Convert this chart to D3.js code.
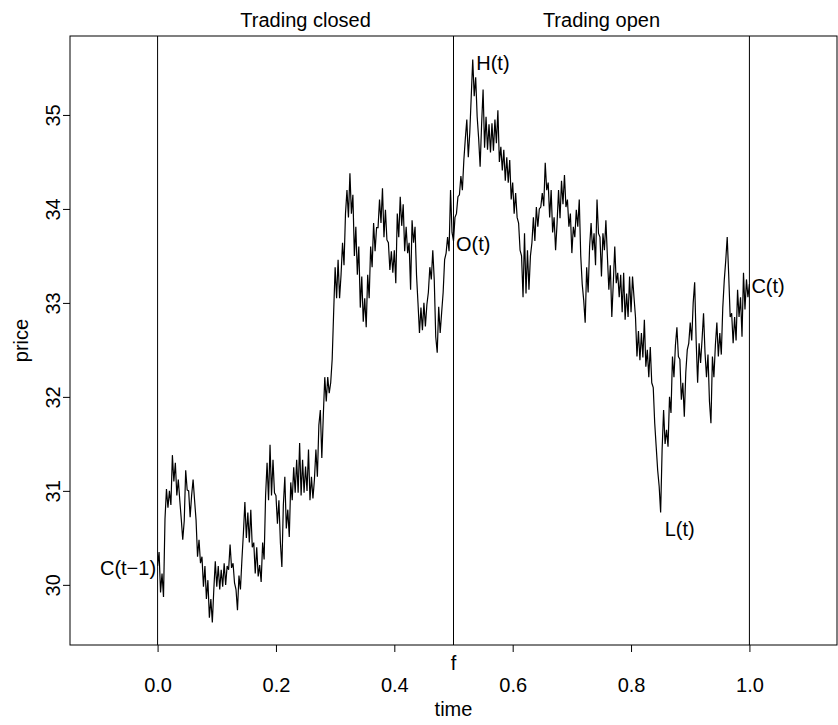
<!DOCTYPE html>
<html>
<head>
<meta charset="utf-8">
<script src="https://cdn.jsdelivr.net/npm/d3@7"></script>
<style>
  body { margin: 0; background: #fff; }
  text { font-family: "Liberation Sans", Arial, Helvetica, sans-serif; fill: #000; }
</style>
</head>
<body>
<div id="chart"></div>
<script>
var timeStep = 0.0025;
var prices = [
  30.20, 30.35, 29.92, 30.12, 29.87, 30.70, 31.02, 30.82, 31.00, 30.85,
  31.38, 31.10, 31.30, 30.95, 31.12, 30.90, 30.70, 30.48, 30.68, 31.22,
  31.01, 31.00, 30.72, 30.95, 31.12, 30.90, 30.69, 30.30, 30.48, 30.23,
  30.30, 29.98, 30.20, 29.85, 30.05, 29.65, 29.85, 29.60, 29.95, 30.25,
  29.98, 30.20, 29.95, 30.16, 29.98, 30.23, 30.00, 30.20, 30.16, 30.43,
  30.18, 30.23, 30.02, 29.95, 29.73, 30.10, 29.95, 30.27, 30.55, 30.88,
  30.50, 30.77, 30.45, 30.80, 30.40, 30.45, 30.12, 30.40, 30.09, 30.21,
  30.03, 30.45, 30.27, 30.95, 31.30, 30.90, 31.49, 30.95, 31.33, 30.98,
  30.95, 30.65, 30.90, 30.45, 30.19, 30.85, 31.15, 30.60, 30.80, 30.51,
  31.09, 30.90, 31.25, 30.98, 31.33, 30.98, 31.51, 30.95, 31.33, 30.98,
  31.26, 31.00, 31.44, 30.90, 31.15, 30.92, 31.12, 31.44, 31.15, 31.70,
  31.86, 31.35, 31.80, 32.21, 31.95, 32.21, 32.04, 32.15, 32.40, 32.90,
  33.38, 33.05, 33.46, 33.05, 33.30, 33.64, 33.40, 33.95, 34.20, 33.91,
  34.38, 33.95, 34.15, 33.50, 33.81, 33.30, 33.60, 32.95, 33.28, 32.80,
  33.05, 32.74, 33.30, 33.05, 33.60, 33.38, 33.85, 33.55, 33.80, 33.80,
  34.10, 33.85, 34.22, 33.70, 33.99, 33.67, 33.64, 33.35, 33.55, 33.32,
  33.56, 33.21, 33.95, 33.70, 34.13, 33.82, 34.05, 33.55, 33.81, 33.53,
  33.64, 33.14, 33.88, 33.64, 33.81, 33.30, 33.00, 32.68, 32.95, 32.71,
  33.00, 32.75, 32.98, 33.11, 33.38, 33.25, 33.56, 33.24, 32.64, 32.47,
  32.96, 32.68, 32.90, 33.11, 33.46, 33.53, 33.70, 33.55, 34.20, 33.75,
  33.66, 33.91, 33.95, 34.13, 34.15, 34.35, 34.20, 34.52, 34.75, 34.95,
  34.55, 34.81, 35.20, 35.59, 35.20, 35.40, 34.98, 34.75, 34.45, 34.90,
  35.27, 34.65, 34.98, 34.63, 34.90, 34.60, 34.91, 34.62, 34.95, 34.70,
  35.05, 34.50, 34.66, 34.41, 34.63, 34.30, 34.55, 34.28, 34.52, 34.10,
  34.28, 33.95, 34.17, 33.91, 33.85, 33.56, 33.50, 33.06, 33.74, 33.10,
  33.56, 33.14, 33.50, 33.64, 33.91, 33.66, 34.02, 33.81, 34.00, 34.02,
  34.17, 34.03, 34.49, 34.20, 34.28, 33.91, 34.20, 33.75, 33.91, 33.56,
  33.85, 34.20, 33.90, 34.30, 34.05, 34.36, 34.02, 34.10, 33.81, 33.95,
  33.53, 33.81, 33.70, 33.99, 33.81, 34.10, 33.50, 33.20, 33.03, 32.79,
  33.38, 33.11, 33.60, 33.85, 33.56, 33.74, 33.40, 34.10, 33.74, 33.70,
  33.28, 33.74, 33.56, 33.88, 33.50, 33.14, 33.40, 32.85, 33.21, 33.60,
  33.21, 33.32, 33.06, 33.30, 32.90, 33.32, 32.82, 33.10, 32.85, 33.28,
  32.90, 33.28, 33.06, 32.85, 32.43, 32.70, 32.39, 32.68, 32.42, 32.82,
  32.32, 32.50, 32.21, 32.53, 32.15, 32.10, 31.72, 31.47, 31.22, 31.05,
  30.77, 31.44, 31.86, 31.50, 31.65, 31.47, 32.00, 31.83, 32.43, 32.21,
  32.55, 32.74, 32.43, 32.40, 31.97, 32.15, 31.79, 32.26, 32.50, 32.57,
  32.79, 32.60, 33.00, 33.22, 32.60, 32.15, 32.57, 32.36, 32.61, 32.89,
  32.47, 32.21, 32.45, 31.95, 31.72, 32.43, 32.21, 32.55, 32.79, 32.43,
  32.68, 32.45, 32.95, 33.24, 33.45, 33.70, 33.30, 32.85, 32.89, 32.57,
  32.85, 32.60, 33.14, 32.85, 33.06, 32.64, 33.32, 32.93, 33.25, 33.06,
  33.20
];

var xTicks = [0, 0.2, 0.4, 0.6, 0.8, 1.0];
var yTicks = [30, 31, 32, 33, 34, 35];
var sessionBreaks = [0, 0.5, 1];
var sessionNames = ["Trading closed", "Trading open"];
var openTime = 0.5;
var xLimits = [-0.148, 1.148];
var yLimits = [29.36, 35.84];

var svgWidth = 838;
var svgHeight = 725;
var margin = { top: 36, right: 1, bottom: 80, left: 70 };
var width = svgWidth - margin.left - margin.right;
var height = svgHeight - margin.top - margin.bottom;

var svg = d3.select("#chart").append("svg")
  .attr("width", svgWidth)
  .attr("height", svgHeight);

var g = svg.append("g")
  .attr("transform", `translate(${margin.left}, ${margin.top})`);

var x = d3.scaleLinear().domain(xLimits).range([0, width]);
var y = d3.scaleLinear().domain(yLimits).range([height, 0]);

var path = prices.map(function(p, i) { return { t: i * timeStep, p: p }; });

g.append("clipPath").attr("id", "clip")
  .append("rect").attr("width", width).attr("height", height);

// vertical session lines
g.selectAll(".vline")
  .data(sessionBreaks)
  .enter().append("line")
  .attr("x1", d => x(d)).attr("x2", d => x(d))
  .attr("y1", 0).attr("y2", height)
  .attr("stroke", "#000").attr("stroke-width", 1);

// the price path
var line = d3.line().x(d => x(d.t)).y(d => y(d.p));
g.append("path")
  .datum(path)
  .attr("clip-path", "url(#clip)")
  .attr("d", line)
  .attr("fill", "none")
  .attr("stroke", "#000")
  .attr("stroke-width", 1.2);

// box
g.append("rect")
  .attr("x", 0).attr("y", 0)
  .attr("width", width).attr("height", height)
  .attr("fill", "none").attr("stroke", "#000").attr("stroke-width", 1);

// axes
var xAxis = g.append("g")
  .attr("transform", `translate(0, ${height})`)
  .call(d3.axisBottom(x).tickValues(xTicks).tickFormat(d3.format(".1f")).tickSize(7));
xAxis.select(".domain").remove();
xAxis.selectAll("text")
  .attr("y", 47).attr("dy", 0)
  .attr("font-size", 20).attr("font-family", null);

var yAxis = g.append("g")
  .call(d3.axisLeft(y).tickValues(yTicks).tickFormat(d3.format("d")).tickSize(7));
yAxis.select(".domain").remove();
yAxis.selectAll("text")
  .attr("transform", "rotate(-90)")
  .attr("x", 0).attr("y", -10).attr("dy", 0)
  .attr("text-anchor", "middle")
  .attr("font-size", 20).attr("font-family", null);
g.selectAll(".tick line").attr("stroke", "#000");

// "f" under the open line
g.append("text")
  .attr("x", x(openTime)).attr("y", height + 25)
  .attr("text-anchor", "middle").attr("font-size", 20)
  .text("f");

// axis titles
g.append("text")
  .attr("x", width / 2).attr("y", height + 71)
  .attr("text-anchor", "middle").attr("font-size", 20)
  .text("time");
g.append("text")
  .attr("transform", `translate(${28 - margin.left}, ${height / 2}) rotate(-90)`)
  .attr("text-anchor", "middle").attr("font-size", 20)
  .text("price");

// session names above the box
g.selectAll(".session")
  .data(sessionNames)
  .enter().append("text")
  .attr("x", (d, i) => x((sessionBreaks[i] + sessionBreaks[i + 1]) / 2))
  .attr("y", -9)
  .attr("text-anchor", "middle").attr("font-size", 20)
  .text(d => d);

// point labels: previous close, open, high, low, close
var openIdx = Math.round(openTime / timeStep);
var dayPart = path.slice(openIdx);
var hi = dayPart.reduce((a, b) => b.p > a.p ? b : a);
var lo = dayPart.reduce((a, b) => b.p < a.p ? b : a);
var pointLabels = [
  { name: "C(t\u22121)", d: path[0], anchor: "end", dx: -1.5, dy: 9 },
  { name: "O(t)", d: path[openIdx], anchor: "start", dx: 2.5, dy: 10 },
  { name: "H(t)", d: hi, anchor: "start", dx: 3.5, dy: 11 },
  { name: "L(t)", d: lo, anchor: "start", dx: 4, dy: 23.5 },
  { name: "C(t)", d: path[path.length - 1], anchor: "start", dx: 2, dy: 9 }
];
g.selectAll(".plabel")
  .data(pointLabels)
  .enter().append("text")
  .attr("x", d => x(d.d.t) + d.dx)
  .attr("y", d => y(d.d.p) + d.dy)
  .attr("text-anchor", d => d.anchor)
  .attr("font-size", 20)
  .text(d => d.name);
</script>
</body>
</html>
